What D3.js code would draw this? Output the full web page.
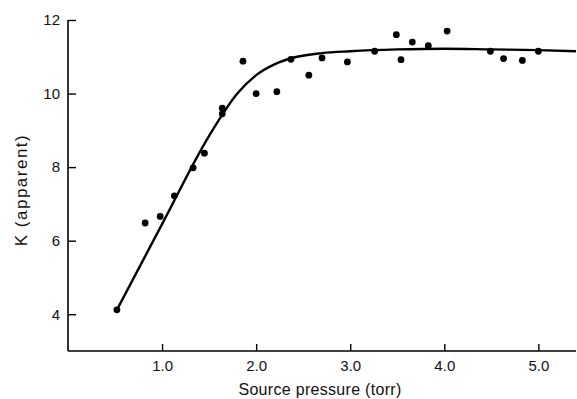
<!DOCTYPE html>
<html>
<head>
<meta charset="utf-8">
<script src="https://cdn.jsdelivr.net/npm/d3@7"></script>
<style>
  body { margin: 0; background: #fff; }
  svg text { font-family: "Liberation Sans", "DejaVu Sans", sans-serif; fill: #111; }
</style>
</head>
<body>
<div id="vis"></div>
<script>
// measured points (source pressure in torr, K apparent)
const pressure = [0.52, 0.82, 0.98, 1.13, 1.33, 1.45, 1.64, 1.64, 1.86, 2.0, 2.22, 2.37, 2.56, 2.70, 2.97, 3.26, 3.49, 3.54, 3.66, 3.83, 4.03, 4.49, 4.63, 4.83, 5.0]
const kApparent = [4.12, 6.48, 6.66, 7.22, 7.98, 8.38, 9.45, 9.6, 10.88, 10.0, 10.05, 10.93, 10.5, 10.97, 10.86, 11.15, 11.6, 10.92, 11.4, 11.3, 11.7, 11.15, 10.95, 10.9, 11.15]

// hand drawn fit curve
const curveX = [0.52, 1.0, 1.5, 1.8, 2.0, 2.2, 2.4, 2.7, 3.0, 3.5, 4.0, 4.5, 5.0, 5.4]
const curveY = [4.12, 6.45, 8.85, 10.0, 10.5, 10.8, 10.98, 11.1, 11.15, 11.2, 11.22, 11.2, 11.18, 11.15]

const xTicks = [1, 2, 3, 4, 5]
const yTicks = [4, 6, 8, 10, 12]

const width = 577, height = 399
const margin = {top: 20, right: 1, bottom: 48, left: 68}

const svg = d3.select("#vis").append("svg")
    .attr("width", width)
    .attr("height", height)

const x = d3.scaleLinear()
    .domain([0, 5.4])
    .range([margin.left, width - margin.right])

const y = d3.scaleLinear()
    .domain([3, 12])
    .range([height - margin.bottom, margin.top])

// x axis, ticks pointing up into the plot
const gx = svg.append("g")
    .attr("transform", "translate(0," + (height - margin.bottom) + ")")
    .call(d3.axisBottom(x).tickValues(xTicks).tickSize(-7).tickPadding(9).tickFormat(d3.format(".1f")))
gx.select(".domain").attr("d", "M" + x.range()[0] + ",0H" + x.range()[1]).attr("stroke-width", 1.6)
gx.selectAll(".tick line").attr("stroke-width", 1.4)
gx.selectAll("text").style("font-size", "15px")

// y axis, ticks pointing right into the plot
const gy = svg.append("g")
    .attr("transform", "translate(" + margin.left + ",0)")
    .call(d3.axisLeft(y).tickValues(yTicks).tickSize(-8).tickPadding(8))
gy.select(".domain").attr("d", "M0," + y(3) + "V" + y(12)).attr("stroke-width", 1.6)
gy.selectAll(".tick line").attr("stroke-width", 1.4)
gy.selectAll("text").style("font-size", "15px")

// fit curve
const line = d3.line()
    .x((d, i) => x(curveX[i]))
    .y((d, i) => y(curveY[i]))
    .curve(d3.curveMonotoneX)

svg.append("path")
    .datum(curveX)
    .attr("d", line)
    .attr("fill", "none")
    .attr("stroke", "#000")
    .attr("stroke-width", 2.4)

// data points
svg.selectAll(".dot")
    .data(pressure)
    .enter()
    .append("circle")
    .attr("class", "dot")
    .attr("cx", d => x(d))
    .attr("cy", (d, i) => y(kApparent[i]))
    .attr("r", 3.4)
    .attr("fill", "#000")

// axis titles
svg.append("text")
    .attr("x", 320)
    .attr("y", 395)
    .attr("text-anchor", "middle")
    .style("font-size", "16px")
    .style("letter-spacing", "0.3px")
    .text("Source pressure (torr)")

svg.append("text")
    .attr("transform", "translate(27," + 190 + ")rotate(-90)")
    .attr("text-anchor", "middle")
    .style("font-size", "17px")
    .style("letter-spacing", "1.5px")
    .text("K (apparent)")
</script>
</body>
</html>
